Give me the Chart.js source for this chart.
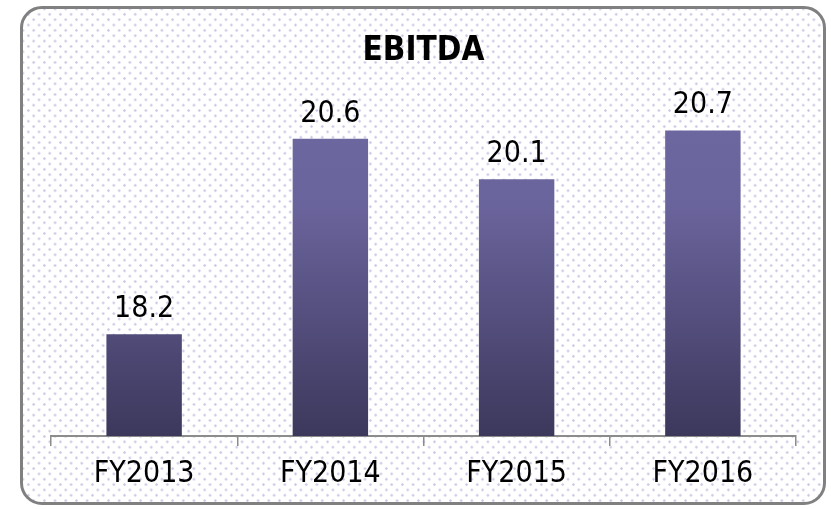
<!DOCTYPE html>
<html>
<head>
<meta charset="utf-8">
<script src="https://cdn.jsdelivr.net/npm/chart.js@4"></script>
<style>
  html, body { margin: 0; padding: 0; background: #fff; }
  body { width: 831px; height: 509px; position: relative; overflow: hidden; }
  #box {
    position: absolute; left: 20px; top: 6px; width: 806px; height: 499px;
    box-sizing: border-box; border: 3px solid #808080; border-radius: 22px;
    background-color: #fff;
    background-image:
      radial-gradient(circle, #c9c7e4 0.9px, rgba(255,255,255,0) 1.5px),
      radial-gradient(circle, #c9c7e4 0.9px, rgba(255,255,255,0) 1.5px);
    background-size: 10.7px 10.7px, 10.7px 10.7px;
    background-position: 0 0, 5.35px 5.35px;
    overflow: hidden;
  }
  #wrap { position: absolute; left: 0; top: 0; width: 800px; height: 493px; }
</style>
</head>
<body>
<div id="box"><div id="wrap"><canvas id="chart"></canvas></div></div>
<script>
// EBITDA by fiscal year
const years = ["FY2013", "FY2014", "FY2015", "FY2016"];
const ebitda = [18.2, 20.6, 20.1, 20.7];
const chartTitle = "EBITDA";

const FONT = "'DejaVu Sans Condensed', 'DejaVu Sans', sans-serif";

// bar fill: light purple at top, dark at the base
function barGradient(ctx) {
  const area = ctx.chart.chartArea;
  if (!area) return "#5a5488";
  const g = ctx.chart.ctx.createLinearGradient(0, area.top, 0, area.bottom);
  g.addColorStop(0, "#6f69a3");
  g.addColorStop(0.35, "#6a649c");
  g.addColorStop(1, "#3c385c");
  return g;
}

// value labels above bars
const valueLabels = {
  id: "valueLabels",
  afterDatasetsDraw(chart) {
    const c = chart.ctx;
    const meta = chart.getDatasetMeta(0);
    c.save();
    c.font = "30px " + FONT;
    c.fillStyle = "#000";
    c.textAlign = "center";
    c.textBaseline = "alphabetic";
    meta.data.forEach((bar, i) => {
      c.fillText(ebitda[i].toFixed(1), bar.x, bar.y - 17);
    });
    c.restore();
  }
};

new Chart(document.getElementById("chart").getContext("2d"), {
  type: "bar",
  data: {
    labels: years,
    datasets: [{
      data: ebitda,
      backgroundColor: barGradient,
      borderWidth: 0,
      categoryPercentage: 1,
      barPercentage: 0.405
    }]
  },
  options: {
    responsive: true,
    maintainAspectRatio: false,
    animation: false,
    layout: { padding: { left: 28, right: 27, top: 10, bottom: 0 } },
    plugins: {
      legend: { display: false },
      tooltip: { enabled: false },
      title: {
        display: true,
        text: chartTitle,
        color: "#000",
        font: { family: FONT, size: 33, weight: "bold" },
        padding: { top: 13, bottom: 10 }
      }
    },
    scales: {
      y: { display: false, min: 16.95, max: 21.3 },
      x: {
        grid: { drawOnChartArea: false, drawTicks: true, tickLength: 10, color: "#8c8c8c", lineWidth: 1.5 },
        border: { display: true, color: "#8c8c8c", width: 2 },
        ticks: { color: "#000", padding: 1, font: { family: FONT, size: 30, lineHeight: 1.8 } }
      }
    }
  },
  plugins: [valueLabels]
});
</script>
</body>
</html>
